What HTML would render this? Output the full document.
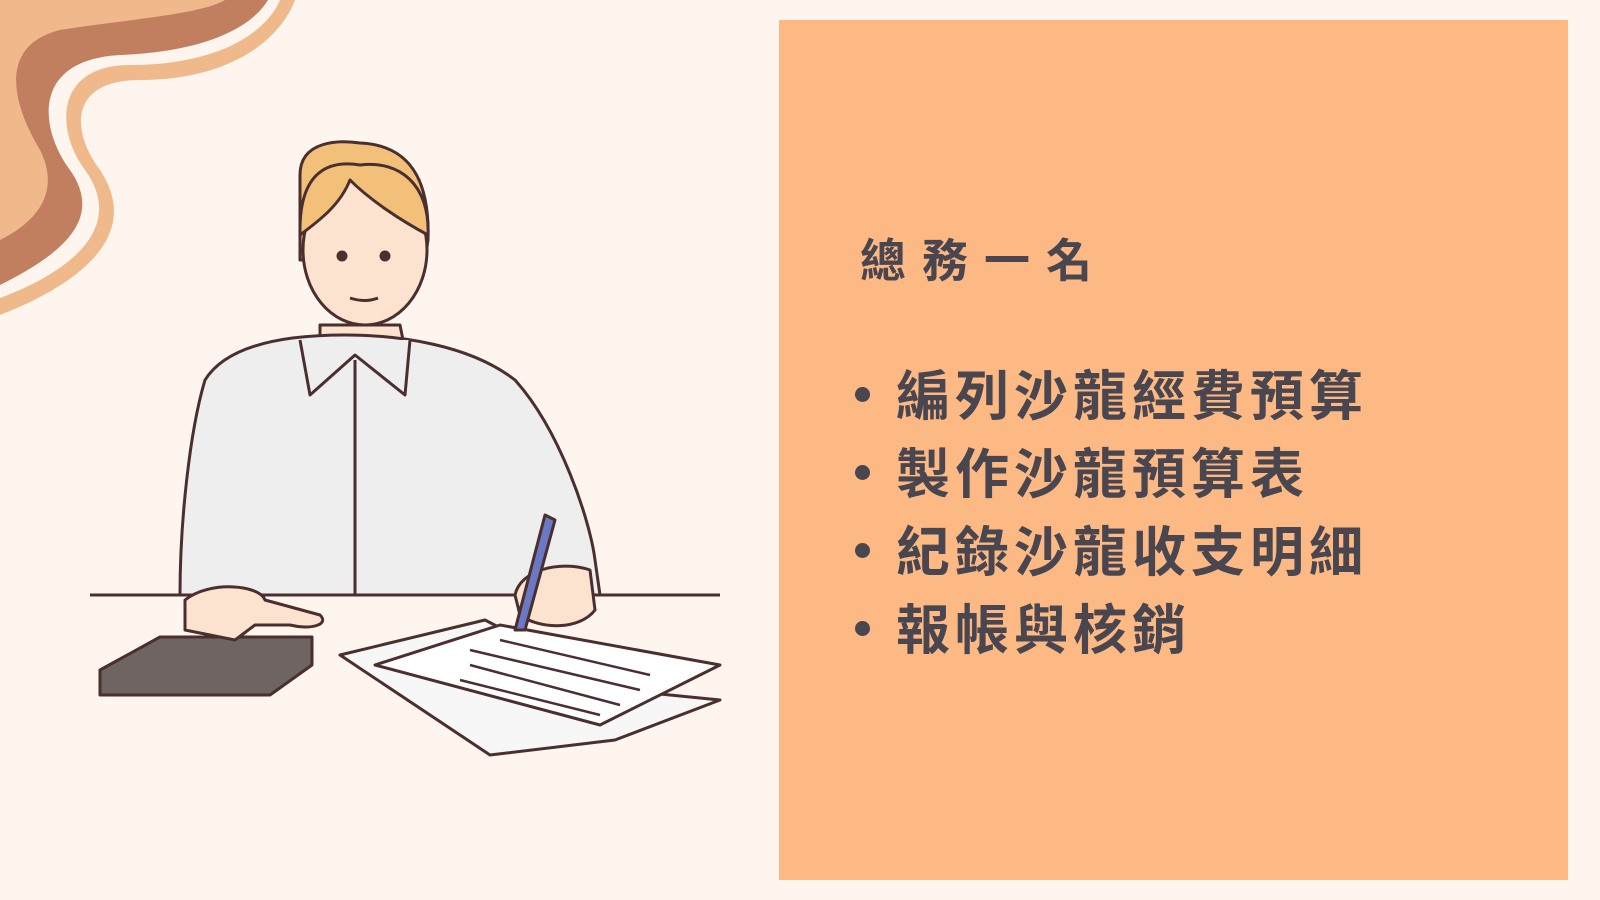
<!DOCTYPE html>
<html><head><meta charset="utf-8"><style>
html,body{margin:0;padding:0}
body{width:1600px;height:900px;background:#fdf5ee;position:relative;overflow:hidden;font-family:"Liberation Sans","Noto Sans CJK TC",sans-serif}
#panel{position:absolute;left:779px;top:20px;width:789px;height:860px;background:#fdb983}
.t{position:absolute;color:#4a4650;font-weight:bold;white-space:nowrap}
#title{left:860px;top:225px;font-size:46px;letter-spacing:16px}
.b{left:855px;font-size:54px;letter-spacing:5px}
.b::before{content:"";display:inline-block;width:15px;height:15px;border-radius:50%;background:#4a4650;margin-right:26px;vertical-align:middle;position:relative;top:-6px}
</style></head><body>
<svg width="320" height="330" style="position:absolute;left:0;top:0">
<path d="M0,0 H295 C280,40 230,80 140,80 C70,80 70,130 100,170 C140,230 90,280 0,315 Z" fill="#f0b98c"/>
<path d="M0,0 H280 C265,35 215,65 130,65 C55,65 55,130 85,170 C125,225 75,270 0,298 Z" fill="#fdf5ee"/>
<path d="M0,0 H268 C250,30 200,52 120,55 C30,60 40,130 70,170 C105,220 60,255 0,285 Z" fill="#c17f5f"/>
<path d="M0,0 H225 C200,15 120,20 60,30 C0,45 10,100 40,150 C60,190 40,220 0,240 Z" fill="#f0b98c"/>
</svg>
<svg width="760" height="780" style="position:absolute;left:0;top:0" stroke="#4b2f2f" stroke-width="3" stroke-linejoin="round">
<path d="M300,175 C300,140 340,140 360,143 C410,145 430,180 428,240 L425,260 L300,260 Z" fill="#f3c07a"/>
<ellipse cx="365" cy="250" rx="62" ry="75" fill="#fbe3cf"/>
<path d="M300,230 C300,170 330,160 360,165 C400,160 430,185 428,235 C400,220 370,200 350,180 C340,205 320,220 300,235 Z" fill="#f3c07a"/>
<circle cx="342" cy="256" r="4" fill="#4b2f2f"/><circle cx="385" cy="256" r="4" fill="#4b2f2f"/>
<path d="M350,298 Q365,303 378,298" fill="none"/>
<path d="M320,325 L400,325 L410,375 L320,375 Z" fill="#fbe3cf"/>
<path d="M205,380 C230,340 300,335 345,335 C400,335 470,345 515,380 C560,430 590,520 595,560 L600,595 L180,595 C180,520 190,430 205,380 Z" fill="#eeeeee"/>
<path d="M300,340 L310,395 L355,355 L405,395 L410,340" fill="#eeeeee"/>
<line x1="355" y1="360" x2="355" y2="595"/>
<line x1="90" y1="595" x2="720" y2="595"/>
<path d="M100,670 L160,637 L312,637 L312,665 L270,695 L100,695 Z" fill="#6e6563"/>
<path d="M185,600 C210,580 260,585 265,600 L320,615 C330,625 310,630 290,625 L255,625 L235,640 L185,630 Z" fill="#fbe3cf"/>
<path d="M340,655 L485,620 L620,690 L720,700 L615,740 L490,755 Z" fill="#f7f7f7"/>
<path d="M375,665 L500,625 L720,665 L600,725 Z" fill="#ffffff"/>
<g stroke-width="2.5"><line x1="470" y1="650" x2="640" y2="690"/><line x1="470" y1="665" x2="620" y2="705"/><line x1="460" y1="680" x2="600" y2="715"/><line x1="500" y1="640" x2="650" y2="675"/></g>
<path d="M515,595 C520,570 560,560 590,570 L595,610 C580,630 540,630 520,615 Z" fill="#fbe3cf"/>
<path d="M515,630 L545,515 L555,520 L525,630 Z" fill="#6b78c4"/>
</svg>
<div id="panel"></div>
<div id="title" class="t">總務一名</div>
<div class="t b" style="top:352px">編列沙龍經費預算</div>
<div class="t b" style="top:430px">製作沙龍預算表</div>
<div class="t b" style="top:508px">紀錄沙龍收支明細</div>
<div class="t b" style="top:586px">報帳與核銷</div>
</body></html>
